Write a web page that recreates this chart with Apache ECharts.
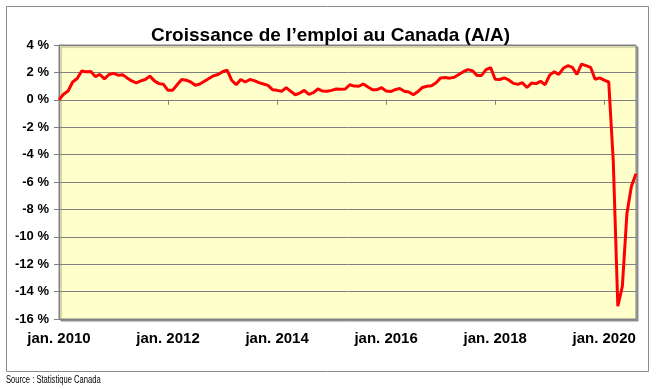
<!DOCTYPE html>
<html>
<head>
<meta charset="utf-8">
<script src="https://cdn.jsdelivr.net/npm/echarts@6/dist/echarts.min.js"></script>
<style>
html,body{margin:0;padding:0;background:#fff;}
#c{width:664px;height:389px;}
</style>
</head>
<body>
<div id="c"></div>
<script>
const titleText = 'Croissance de l\u2019emploi au Canada (A/A)';
const sourceText = 'Source : Statistique Canada';
const startYear = 2010;
const monthNames = ['jan.','f\u00e9v.','mars','avr.','mai','juin','juil.','ao\u00fbt','sept.','oct.','nov.','d\u00e9c.'];
const yTicks = { min: -16, max: 4, interval: 2 };

// Year-over-year employment growth (%), monthly, Jan 2010 - Aug 2020
const growth2010 = [0.0, 0.4, 0.64, 1.3, 1.55, 2.1, 2.05, 2.07, 1.7, 1.85, 1.53, 1.85];
const growth2011 = [1.93, 1.8, 1.83, 1.6, 1.38, 1.23, 1.38, 1.48, 1.73, 1.38, 1.18, 1.13];
const growth2012 = [0.69, 0.69, 1.1, 1.48, 1.43, 1.3, 1.06, 1.15, 1.35, 1.55, 1.75, 1.85];
const growth2013 = [2.05, 2.17, 1.43, 1.1, 1.48, 1.3, 1.48, 1.4, 1.25, 1.15, 1.05, 0.74];
const growth2014 = [0.69, 0.62, 0.89, 0.62, 0.37, 0.49, 0.69, 0.4, 0.52, 0.79, 0.64, 0.62];
const growth2015 = [0.69, 0.79, 0.77, 0.79, 1.1, 1.0, 0.99, 1.16, 0.94, 0.74, 0.74, 0.89];
const growth2016 = [0.64, 0.6, 0.74, 0.83, 0.62, 0.57, 0.37, 0.6, 0.9, 0.99, 1.03, 1.25];
const growth2017 = [1.6, 1.63, 1.58, 1.65, 1.85, 2.05, 2.2, 2.12, 1.78, 1.78, 2.2, 2.35];
const growth2018 = [1.5, 1.48, 1.6, 1.45, 1.2, 1.13, 1.25, 0.9, 1.22, 1.18, 1.35, 1.1];
const growth2019 = [1.8, 2.05, 1.85, 2.3, 2.49, 2.37, 1.85, 2.6, 2.49, 2.37, 1.5, 1.6];
const growth2020 = [1.43, 1.3, -4.5, -15.07, -13.6, -8.3, -6.3, -5.4];

const values = [].concat(growth2010, growth2011, growth2012, growth2013, growth2014,
  growth2015, growth2016, growth2017, growth2018, growth2019, growth2020);
const categories = values.map((v, i) => monthNames[i % 12] + ' ' + (startYear + Math.floor(i / 12)));

const chart = echarts.init(document.getElementById('c'), null, { renderer: 'canvas' });
const gridColor = '#808080';
chart.setOption({
  animation: false,
  backgroundColor: '#ffffff',
  title: {
    text: titleText,
    left: 146,
    top: 21,
    textStyle: { fontFamily: 'Liberation Sans, Arial, sans-serif', fontWeight: 'bold', fontSize: 19, color: '#000' }
  },
  graphic: [
    { type: 'rect', shape: { x: 6.5, y: 6.5, width: 642, height: 365 }, style: { fill: 'none', stroke: '#8c8c8c', lineWidth: 1 }, z: -1 },
    { type: 'text', x: 6, y: 375, scaleX: 0.76, style: { text: sourceText, font: '10px "Liberation Sans", Arial, sans-serif', fill: '#000' } }
  ],
  grid: {
    left: 59, right: 28, top: 45, bottom: 70,
    show: true, backgroundColor: '#FFFFCC', borderColor: gridColor, borderWidth: 1,
    shadowColor: 'rgba(0,0,0,0.35)', shadowOffsetX: 2, shadowOffsetY: 2, shadowBlur: 1
  },
  xAxis: [
    {
      type: 'category', data: categories, boundaryGap: false, position: 'bottom',
      axisLine: { onZero: true, lineStyle: { color: gridColor, width: 1 } },
      axisTick: { show: true, interval: 23, length: 5, lineStyle: { color: gridColor } },
      axisLabel: { show: false }, splitLine: { show: false }
    },
    {
      type: 'category', data: categories, boundaryGap: false, position: 'bottom',
      axisLine: { show: false, onZero: false }, axisTick: { show: false },
      axisLabel: {
        interval: 23, margin: 12,
        formatter: v => v,
        fontFamily: 'Liberation Sans, Arial, sans-serif', fontWeight: 'bold', fontSize: 15, color: '#000'
      },
      splitLine: { show: false }
    }
  ],
  yAxis: {
    type: 'value', min: yTicks.min, max: yTicks.max, interval: yTicks.interval,
    axisLine: { show: true, lineStyle: { color: gridColor } },
    axisTick: { show: true, length: 5, lineStyle: { color: gridColor } },
    axisLabel: {
      formatter: v => v + ' %', margin: 10,
      fontFamily: 'Liberation Sans, Arial, sans-serif', fontWeight: 'bold', fontSize: 13, color: '#000'
    },
    splitLine: { show: true, lineStyle: { color: gridColor, width: 1 } }
  },
  series: [{
    type: 'line', data: values, xAxisIndex: 0, yAxisIndex: 0,
    symbol: 'none', smooth: false,
    lineStyle: { color: '#FF0000', width: 3 }, z: 5
  }]
});
</script>
</body>
</html>
